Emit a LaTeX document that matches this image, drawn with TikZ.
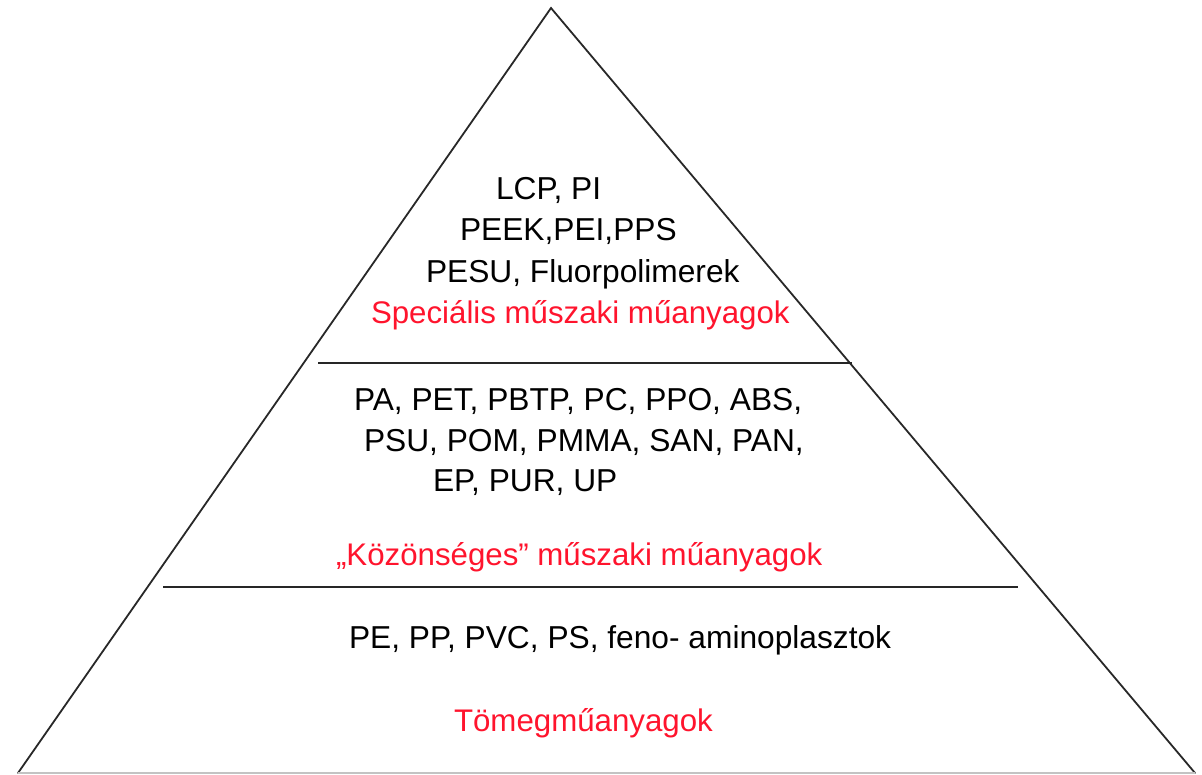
\documentclass[tikz,border=0pt]{standalone}
\usepackage{fontspec}
\setmainfont{Liberation Sans}
\definecolor{lbl}{RGB}{255,20,45}
\definecolor{edge}{RGB}{40,40,40}
\definecolor{basec}{RGB}{195,195,195}
\begin{document}
\begin{tikzpicture}[x=1pt,y=-1pt,
  txt/.style={inner sep=0pt,outer sep=0pt,font=\fontsize{31.7}{38}\selectfont,text=black},
  cat/.style={txt,font=\fontsize{31.25}{38}\selectfont,text=lbl},
  side/.style={draw=edge,line width=1.8pt,line cap=round},
  sep/.style={draw=black!85,line width=2.1pt}]
\useasboundingbox (0,0) rectangle (1202,774);
% triangle
\coordinate (apex) at (551,8);
\coordinate (bl) at (18,773);
\coordinate (br) at (1195,773);
\draw[side] (bl) -- (apex) -- (br);
\draw[draw=basec,line width=1.2pt] (bl) -- (br);
% separators
\coordinate (s1l) at (318,363);
\coordinate (s1r) at (852,363);
\coordinate (s2l) at (163,587);
\coordinate (s2r) at (1018,587);
\draw[sep] (s1l) -- (s1r);
\draw[sep] (s2l) -- (s2r);
% top tier
\node[txt,anchor=base west] (t1) at (496,199) {LCP, PI};
\node[txt,anchor=base west] (t2) at (460,240) {PEEK,PEI,PPS};
\node[txt,anchor=base west] (t3) at (426,282) {PESU, Fluorpolimerek};
\node[cat,anchor=base west] (t4) at (371,323) {Speciális műszaki műanyagok};
% middle tier
\node[txt,anchor=base west] (m1) at (354,410) {PA, PET, PBTP, PC, PPO, ABS,};
\node[txt,anchor=base west] (m2) at (364,451) {PSU, POM, PMMA, SAN, PAN,};
\node[txt,anchor=base west] (m3) at (433,491) {EP, PUR, UP};
\node[cat,anchor=base west] (m4) at (336,565) {„Közönséges” műszaki műanyagok};
% bottom tier
\node[txt,anchor=base west] (b1) at (349,648) {PE, PP, PVC, PS, feno- aminoplasztok};
\node[cat,anchor=base west] (b2) at (454,731) {Tömegműanyagok};
\end{tikzpicture}
\end{document}
